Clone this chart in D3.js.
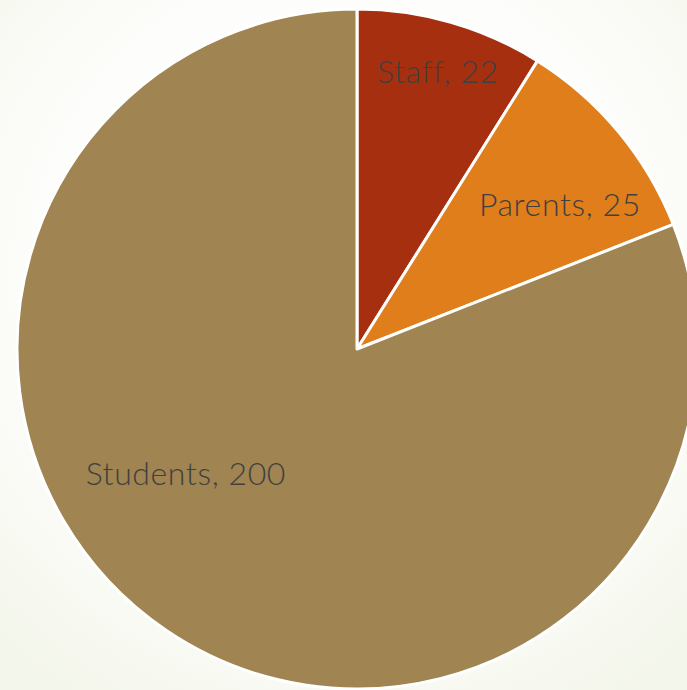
<!DOCTYPE html>
<html><head><meta charset="utf-8">
<script src="https://cdn.jsdelivr.net/npm/d3@7"></script>
<style>html,body{margin:0;padding:0;overflow:hidden;background:#fff}</style>
</head><body>
<svg id="c" width="687" height="690"></svg>
<script>
const categories = ["Staff", "Parents", "Students"];
const values = [22, 25, 200];
const colors = ["#A52F0F", "#DF7E1A", "#A08451"];
// label placement: angle (deg, clockwise from 12 o'clock) and radius fraction
const labelAngles = [16.2, 54.3, 234.3];
const labelRadii = [0.853, 0.735, 0.62];

const W = 687, H = 690, cx = 357, cy = 349, R = 340;
const svg = d3.select("#c");
const defs = svg.append("defs");
const g1 = defs.append("radialGradient").attr("id","bg").attr("cx","50%").attr("cy","40%").attr("r","75%");
g1.append("stop").attr("offset","0%").attr("stop-color","#ffffff");
g1.append("stop").attr("offset","60%").attr("stop-color","#fdfdfb");
g1.append("stop").attr("offset","100%").attr("stop-color","#f3f6ea");
svg.append("rect").attr("width",W).attr("height",H).attr("fill","url(#bg)");

const data = categories.map((c,i)=>({cat:c, val:values[i], color:colors[i], la:labelAngles[i], lr:labelRadii[i]}));
const pie = d3.pie().value(d=>d.val).sort(null);
const arc = d3.arc().innerRadius(0).outerRadius(R);
const g = svg.append("g").attr("transform",`translate(${cx},${cy})`);
const arcs = pie(data);
g.selectAll("path").data(arcs).join("path")
  .attr("d",arc).attr("fill",d=>d.data.color)
  .attr("stroke","#fff").attr("stroke-width",3).attr("stroke-linejoin","round");
g.selectAll("text").data(arcs).join("text")
  .attr("x",d=>Math.sin(d.data.la*Math.PI/180)*d.data.lr*R)
  .attr("y",d=>-Math.cos(d.data.la*Math.PI/180)*d.data.lr*R)
  .attr("text-anchor","middle").attr("dominant-baseline","central")
  .attr("font-family","Lato, 'Open Sans', sans-serif").attr("font-size",32)
  .attr("font-weight",300).attr("letter-spacing","0.6px")
  .attr("fill","#404040")
  .text(d=>`${d.data.cat}, ${d.data.val}`);
</script>
</body></html>
